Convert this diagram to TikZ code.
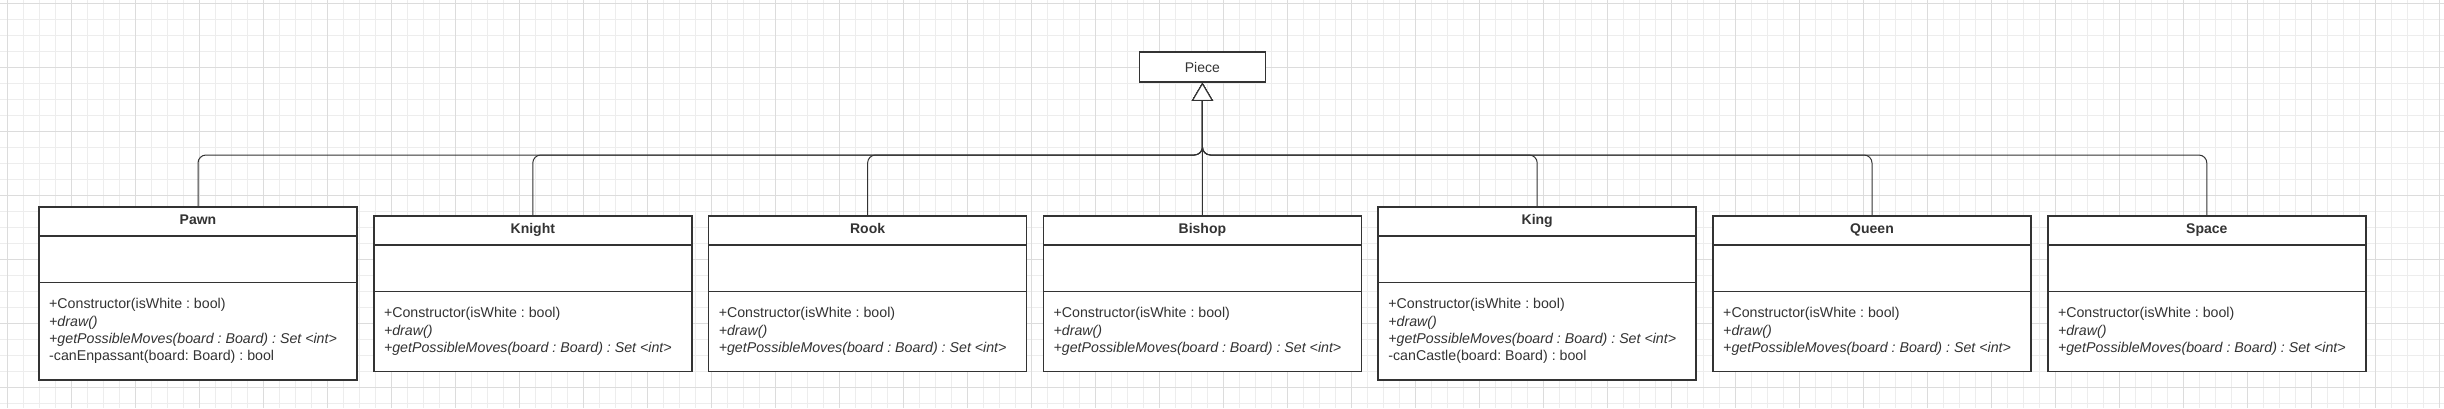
\documentclass[tikz,border=0pt]{standalone}
\usepackage{fontspec}
\setmainfont{Liberation Sans}
\usetikzlibrary{arrows.meta,calc}
\definecolor{ink}{HTML}{333333}
\definecolor{gridminor}{HTML}{EDEDED}
\definecolor{gridmajor}{HTML}{DCDCDC}
\frenchspacing

\begin{document}
\begin{tikzpicture}[x=1pt,y=-1pt,
  classbox/.style={draw=ink,line width=1.6pt,fill=white,minimum width=318pt,anchor=north,outer sep=0pt,inner sep=0pt},
  classname/.style={anchor=base,font=\fontsize{14}{17}\selectfont\bfseries,text=ink},
  classops/.style={anchor=north west,align=left,inner sep=0pt,font=\fontsize{14.2}{17.3}\selectfont,text=ink},
  classrule/.style={draw=ink,line width=1.4pt},
  inherit/.style={draw=ink,line width=1pt,rounded corners=8pt,-{Triangle[length=18pt,width=21pt,fill=white]}}]
  \fill[white] (0,0) rectangle (2444,408);
  \useasboundingbox (0,0) rectangle (2444,408);
  \foreach \x in {7,23,...,2444} \draw[gridminor,line width=1pt] (\x,0) -- (\x,408);
  \foreach \y in {3,19,...,408} \draw[gridminor,line width=1pt] (0,\y) -- (2444,\y);
  \foreach \x in {7,71,...,2444} \draw[gridmajor,line width=1pt] (\x,0) -- (\x,408);
  \foreach \y in {3,67,...,408} \draw[gridmajor,line width=1pt] (0,\y) -- (2444,\y);

  \node[draw=ink,line width=1.6pt,fill=white,minimum width=126pt,minimum height=30pt,
    font=\fontsize{14}{17}\selectfont,text=ink] (Piece) at (1202.4,67) {Piece};
  \coordinate (bus) at (0,155);

  \foreach \name/\i/\top/\h/\extra in {Pawn/0/207/173/{-canEnpassant(board: Board) : bool},
      Knight/1/216/155.5/{}, Rook/2/216/155.5/{}, Bishop/3/216/155.5/{},
      King/4/207/173/{-canCastle(board: Board) : bool}, Queen/5/216/155.5/{}, Space/6/216/155.5/{}} {
    \pgfmathsetmacro{\cx}{198+334.8*\i}
    \node[classbox,minimum height=\h] (\name) at (\cx,\top) {};
    \node[classname] (\name-title) at ([yshift=-17.5pt]\name.north) {\name};
    \draw[classrule] ([yshift=-29pt]\name.north west) -- ([yshift=-29pt]\name.north east);
    \draw[classrule] ([yshift=-75.7pt]\name.north west) -- ([yshift=-75.7pt]\name.north east);
    \node[classops] (\name-ops) at ([xshift=10pt,yshift=-91.5pt]\name.north west)
      {+Constructor(isWhite : bool)\\\textit{+draw()}\\\textit{+getPossibleMoves(board : Board) : Set <int>}\\\extra};
  }

  \foreach \name in {Pawn,Knight,Rook,King,Queen,Space}
    \draw[inherit] (\name.north) |- (bus -| Piece.south) -- (Piece.south);
  \draw[inherit] (Bishop.north) -- (Piece.south);
\end{tikzpicture}
\end{document}
